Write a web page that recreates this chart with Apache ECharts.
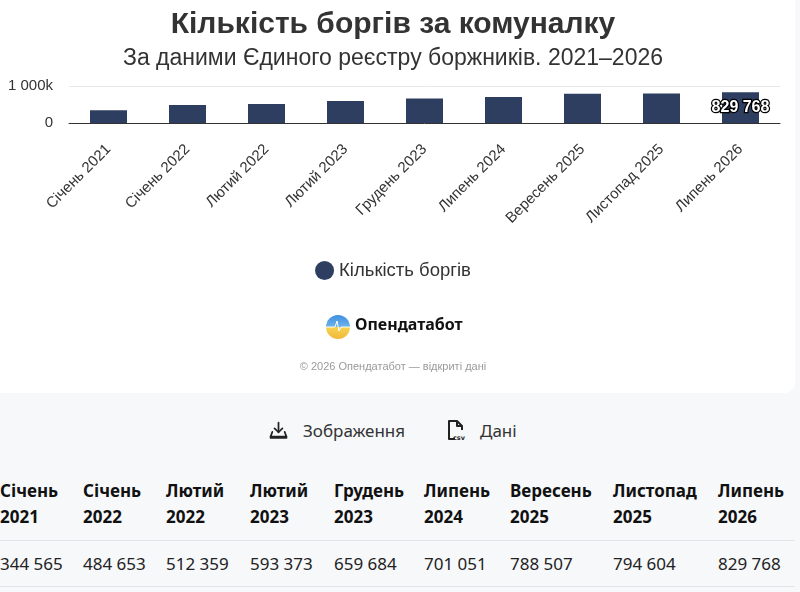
<!DOCTYPE html>
<html lang="uk">
<head>
<meta charset="utf-8">
<title>Кількість боргів за комуналку</title>
<script src="https://cdn.jsdelivr.net/npm/echarts@6.0.0/dist/echarts.min.js"></script>
<style>
  html, body { margin: 0; padding: 0; background: #f7f8fa; width: 800px; height: 592px; overflow: hidden; }
  #card { position: absolute; left: 0; top: 0; width: 795px; height: 393px; background: #fff; border-radius: 0 0 10px 0; }
  #chart { width: 786px; height: 393px; }
  .actions { position: absolute; top: 415px; left: 0; width: 795px; font-family: "Noto Sans", sans-serif; font-size: 17px; color: #333; }
  .actions span { position: absolute; top: 0; display: flex; align-items: center; height: 30px; }
  .actions svg { margin-right: 14px; }
  table { position: absolute; left: 0; top: 478px; width: 795px; border-collapse: collapse; table-layout: fixed; font-family: "Noto Sans", sans-serif; color: #1a1a1a; }
  th { font-size: 17px; font-weight: 700; text-align: left; line-height: 26px; padding: 0 0 10px 0; border-bottom: 1px solid #e2e4e8; vertical-align: top; color: #111; }
  td { font-size: 17px; text-align: left; line-height: 26px; padding: 10px 0 9px 0; border-bottom: 1px solid #e2e4e8; color: #222; }
</style>
</head>
<body>
<div id="card"><div id="chart"></div></div>
<div class="actions">
  <span style="left:268px">
    <svg width="21" height="21" viewBox="0 0 24 24" fill="none" stroke="#222" stroke-width="2" stroke-linecap="round" stroke-linejoin="round">
      <path d="M12 3v11"/><path d="M7.5 9.5L12 14l4.5-4.5"/><path d="M5 13.5l-2 5.5h18l-2-5.5"/><path d="M3 19v1.5h18V19"/>
    </svg>Зображення
  </span>
  <span style="left:446px">
    <svg width="20" height="22" viewBox="0 0 20 22" fill="none" stroke="#222" stroke-width="2" stroke-linejoin="round">
      <path d="M9 20H3V2h8l5 5v4"/><path d="M11 2v5h5"/>
      <text x="7" y="20.5" font-size="6.5" font-family="DejaVu Sans" font-weight="700" fill="#222" stroke="none">csv</text>
    </svg>Дані
  </span>
</div>
<table id="tbl"></table>
<script>
const categories = ['Січень 2021', 'Січень 2022', 'Лютий 2022', 'Лютий 2023', 'Грудень 2023', 'Липень 2024', 'Вересень 2025', 'Листопад 2025', 'Липень 2026'];
const debts = [344565, 484653, 512359, 593373, 659684, 701051, 788507, 794604, 829768];
const yTicks = [0, 1000000];
const columnWidths = [83, 83, 84, 84, 90, 86, 103, 105, 77];

const BAR_COLOR = '#2d3e61';

function groupDigits(n) {
  return String(n).replace(/\B(?=(\d{3})+(?!\d))/g, ' ');
}

const chart = echarts.init(document.getElementById('chart'));

chart.setOption({
  animation: false,
  textStyle: { fontFamily: 'Liberation Sans, Arial, sans-serif' },
  title: {
    text: 'Кількість боргів за комуналку',
    subtext: 'За даними Єдиного реєстру боржників. 2021–2026',
    left: 'center',
    top: 5,
    itemGap: 7,
    textStyle: { fontSize: 30, fontWeight: 'bold', color: '#333' },
    subtextStyle: { fontSize: 23, color: '#333' }
  },
  legend: {
    top: 256,
    left: 'center',
    icon: 'circle',
    itemWidth: 19,
    itemHeight: 19,
    itemGap: 10,
    textStyle: { fontSize: 18.5, color: '#333' }
  },
  grid: { left: 69, right: 6, top: 86, bottom: 270 },
  xAxis: {
    type: 'category',
    data: categories,
    axisTick: { show: false },
    axisLine: { lineStyle: { color: '#333', width: 1 } },
    axisLabel: { rotate: 45, fontSize: 15, color: '#333', margin: 24, interval: 0 }
  },
  yAxis: {
    type: 'value',
    min: yTicks[0],
    max: yTicks[yTicks.length - 1],
    interval: yTicks[1] - yTicks[0],
    axisLabel: {
      fontSize: 15,
      color: '#333',
      margin: 16,
      formatter: v => (v === 0 ? '0' : groupDigits(v / 1000) + 'k')
    },
    splitLine: { lineStyle: { color: '#e8e8e8' } }
  },
  series: [{
    name: 'Кількість боргів',
    type: 'bar',
    barWidth: 37,
    itemStyle: { color: BAR_COLOR },
    data: debts.map((v, i) => ({
      value: v,
      label: {
        show: i === debts.length - 1,
        position: 'inside',
        formatter: p => groupDigits(p.value),
        color: '#fff',
        fontSize: 16,
        fontWeight: 'bold',
        textBorderColor: '#000',
        textBorderWidth: 2.5
      }
    }))
  }],
  graphic: [
    {
      type: 'circle',
      shape: { cx: 338, cy: 327, r: 12 },
      style: {
        fill: {
          type: 'linear', x: 0, y: 0, x2: 0, y2: 1,
          colorStops: [
            { offset: 0, color: '#3d8fe0' },
            { offset: 0.5, color: '#6fb3ea' },
            { offset: 0.5, color: '#f7d352' },
            { offset: 1, color: '#f2b83a' }
          ]
        }
      }
    },
    {
      type: 'polyline',
      shape: { points: [[326, 327], [335, 327], [337, 321], [339, 331], [341, 327], [350, 327]] },
      style: { stroke: '#ffffff', lineWidth: 1, fill: null }
    },
    {
      type: 'text',
      left: 355,
      top: 317,
      style: { text: 'Опендатабот', font: 'bold 16px "Noto Sans", sans-serif', fill: '#111' }
    },
    {
      type: 'text',
      left: 'center',
      top: 361,
      style: { text: '© 2026 Опендатабот — відкриті дані', font: '11px "Liberation Sans", Arial, sans-serif', fill: '#9a9a9a' }
    }
  ]
});

// table under the chart, built from the same arrays
const tbl = document.getElementById('tbl');
const colgroup = '<colgroup>' + columnWidths.map(w => `<col style="width:${w}px">`).join('') + '</colgroup>';
const head = '<tr>' + categories.map(c => `<th>${c.replace(' ', '<br>')}</th>`).join('') + '</tr>';
const row = '<tr>' + debts.map(v => `<td>${groupDigits(v)}</td>`).join('') + '</tr>';
tbl.innerHTML = colgroup + head + row;
</script>
</body>
</html>
